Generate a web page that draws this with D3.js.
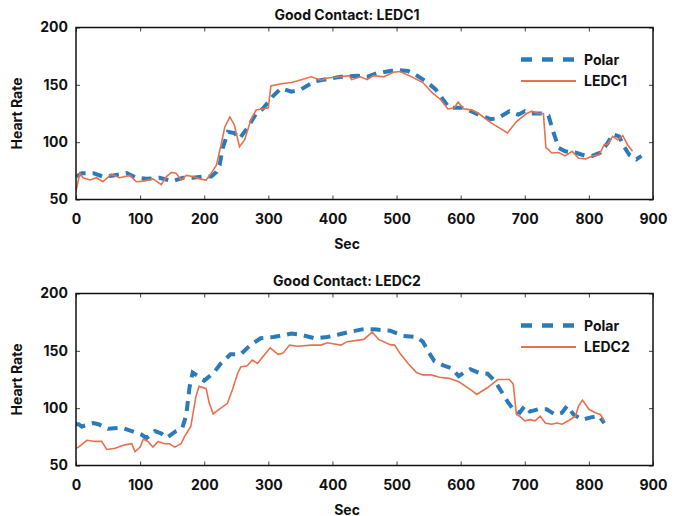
<!DOCTYPE html>
<html>
<head>
<meta charset="utf-8">
<script src="https://cdn.jsdelivr.net/npm/d3@7"></script>
<style>
  body { margin: 0; background: #fff; }
  text { font-family: Inter, Roboto, sans-serif; font-weight: bold; fill: #111; }
</style>
</head>
<body>
<div id="chart"></div>
<script>
var W = 681, H = 516;

// x ticks / y ticks
var secTicks = [0, 100, 200, 300, 400, 500, 600, 700, 800, 900];
var rateTicks = [50, 100, 150, 200];
var titles = ["Good Contact: LEDC1", "Good Contact: LEDC2"];
var seriesNames = [["Polar", "LEDC1"], ["Polar", "LEDC2"]];

// top panel, [sec, bpm]
var polar1 = [[1,70],[9,73],[27,73],[42,70],[58,71],[79,73],[94,69],[110,68],[130,69],[151,66],[167,69],[182,69],
  [198,70],[211,70],[219,74],[224,80],[229,95],[237,109],[247,108],[255,103],[268,113],[281,125],[291,129],
  [307,140],[320,147],[336,144],[351,146],[372,153],[392,155],[413,157],[438,158],[454,157],[469,160],[490,162],
  [500,163],[518,162],[526,160],[546,153],[561,146],[569,140],[582,130],[597,130],[603,130],[616,127],[632,123],
  [647,120],[658,121],[676,127],[690,124],[700,127],[710,125],[729,125],[737,123],[745,108],[753,95],[763,92],
  [779,91],[795,88],[805,88],[818,91],[829,99],[837,107],[847,105],[855,96],[863,89],[874,85],[882,88]];

var ledc1 = [[0,58],[1,60],[6,73],[11,69],[22,67],[32,69],[42,65.5],[55,72],[68,69],[84,71],[94,65.5],[105,66],
  [120,68],[133,63],[141,70],[149,73.6],[156,73],[164,67],[172,71],[182,70],[193,68],[203,67],[211,73],[219,80],
  [226,97],[232,113],[240,122],[247,115],[255,96],[263,102],[273,120],[281,128],[291,129],[300,130],[304,149],
  [320,151],[336,152],[346,153.5],[367,157],[382,154],[392,156],[413,157],[426,158],[430,154.5],[444,157],
  [454,154.5],[464,158],[480,157],[495,161],[505,161.6],[520,158],[541,152],[556,143],[569,137],[580,129],
  [590,130],[596,135],[605,129],[618,128],[628,125],[647,117],[673,108],[687,118],[703,125],[711,127],[721,125],
  [729,125],[733,95],[737,93.5],[742,90.6],[753,91],[763,88],[774,92],[784,86],[795,85.4],[805,88],[816,89],
  [824,98],[829,98],[837,105],[845,102],[853,105.6],[860,98],[868,92]];

// bottom panel, [sec, bpm]
var polar2 = [[0,86],[4,86],[9,84],[27,87],[35,86],[50,82],[71,83],[87,80],[102,77],[110,74],[123,80],[133,78],
  [141,74],[156,80],[166,83],[172,94],[177,118],[182,131],[190,128],[200,124],[215,131],[226,139],[241,147],
  [257,147],[272,155],[288,161],[308,162],[336,165],[351,164],[372,161],[392,162],[408,164],[423,166],[444,168.5],
  [454,169],[469,168.5],[490,167.6],[510,163],[531,162],[541,158],[551,148],[559,141],[574,137],[585,135],
  [597,128],[605,131],[615,134],[628,131],[642,130],[653,124],[663,115],[674,105],[682,99],[692,96],[700,102],
  [708,97],[721,99],[734,99],[747,94.5],[758,96],[766,102],[776,94.5],[790,90],[803,92],[816,93],[824,87]];

var ledc2 = [[0,65],[4,66],[17,72],[30,71],[40,71],[48,64],[61,65],[76,68],[87,69],[92,62],[100,66],[105,73],
  [112,71],[120,66],[128,71],[138,69],[146,69],[154,66],[164,69],[169,75],[179,84],[187,110],[192,119],[203,117],
  [208,104],[214,95],[223,99],[236,104],[244,116],[252,130],[257,136],[267,137],[275,142],[283,139],[293,146],
  [303,152.6],[315,147],[323,148],[333,155],[346,154],[367,155],[382,155],[392,157],[413,155],[423,158],[449,160],
  [462,166.4],[472,160],[490,155.4],[497,155],[505,148],[518,139],[531,131],[541,129],[554,129],[567,127],
  [582,126],[597,123],[608,119],[618,115],[625,112],[642,118],[658,125],[676,125],[682,121],[687,94.5],[692,93],
  [700,89],[708,90],[716,89],[724,93],[732,87],[742,86],[750,87],[758,86],[768,89],[779,93],[784,102],[790,107],
  [800,99],[810,96],[818,94.5],[824,89]];

var panels = [
  { top: 27.5, polar: polar1, ledc: ledc1 },
  { top: 293.5, polar: polar2, ledc: ledc2 }
];

var left = 76, right = 653, ph = 172;
var blue = "#2b7bba", orange = "#e9704c";
var font = "Inter, Roboto, sans-serif";

var svg = d3.select("#chart").append("svg")
  .attr("width", W)
  .attr("height", H);

var x = d3.scaleLinear().domain([0, 900]).range([left, right]);

panels.forEach(function(p, i) {
  var y = d3.scaleLinear().domain([50, 200]).range([p.top + ph, p.top]);
  var g = svg.append("g");

  var line = d3.line()
    .x(function(d) { return x(d[0]); })
    .y(function(d) { return y(d[1]); });

  g.append("path")
    .datum(p.polar)
    .attr("d", line)
    .attr("fill", "none")
    .attr("stroke", blue)
    .attr("stroke-width", 4)
    .attr("stroke-dasharray", "10,7");

  g.append("path")
    .datum(p.ledc)
    .attr("d", line)
    .attr("fill", "none")
    .attr("stroke", orange)
    .attr("stroke-width", 1.6);

  // axes, ticks pointing inward
  g.append("g")
    .attr("transform", "translate(0," + (p.top + ph) + ")")
    .call(d3.axisBottom(x).tickValues(secTicks).tickSize(-4).tickPadding(15));
  g.append("g")
    .attr("transform", "translate(0," + p.top + ")")
    .call(d3.axisTop(x).tickValues(secTicks).tickSize(-4).tickFormat(""));
  g.append("g")
    .attr("transform", "translate(" + left + ",0)")
    .call(d3.axisLeft(y).tickValues(rateTicks).tickSize(-4).tickPadding(8));
  g.append("g")
    .attr("transform", "translate(" + right + ",0)")
    .call(d3.axisRight(y).tickValues(rateTicks).tickSize(-4).tickFormat(""));

  g.selectAll(".domain").remove();
  g.selectAll(".tick line").attr("stroke", "#444");
  g.selectAll(".tick text")
    .attr("font-family", font)
    .attr("font-weight", "bold")
    .attr("font-size", 14)
    .attr("fill", "#111");

  g.append("rect")
    .attr("x", left)
    .attr("y", p.top)
    .attr("width", right - left)
    .attr("height", ph)
    .attr("fill", "none")
    .attr("stroke", "#111")
    .attr("stroke-width", 1.5);

  // title and axis labels
  g.append("text")
    .attr("x", 347)
    .attr("y", p.top - 8)
    .attr("text-anchor", "middle")
    .attr("font-size", 14)
    .text(titles[i]);

  g.append("text")
    .attr("x", 347)
    .attr("y", p.top + ph + 49)
    .attr("text-anchor", "middle")
    .attr("font-size", 14)
    .text("Sec");

  g.append("text")
    .attr("transform", "translate(22," + (p.top + ph / 2) + ") rotate(-90)")
    .attr("text-anchor", "middle")
    .attr("font-size", 14)
    .text("Heart Rate");

  // legend
  var lg = g.append("g").attr("transform", "translate(521," + (p.top + 32) + ")");
  lg.append("line")
    .attr("x1", 0).attr("x2", 55).attr("y1", 0).attr("y2", 0)
    .attr("stroke", blue).attr("stroke-width", 4.5)
    .attr("stroke-dasharray", "11,10");
  lg.append("line")
    .attr("x1", 0).attr("x2", 55).attr("y1", 21.5).attr("y2", 21.5)
    .attr("stroke", orange).attr("stroke-width", 1.8);
  lg.append("text")
    .attr("x", 63).attr("y", 5)
    .attr("font-size", 14)
    .text(seriesNames[i][0]);
  lg.append("text")
    .attr("x", 63).attr("y", 26.5)
    .attr("font-size", 14)
    .text(seriesNames[i][1]);
});
</script>
</body>
</html>
